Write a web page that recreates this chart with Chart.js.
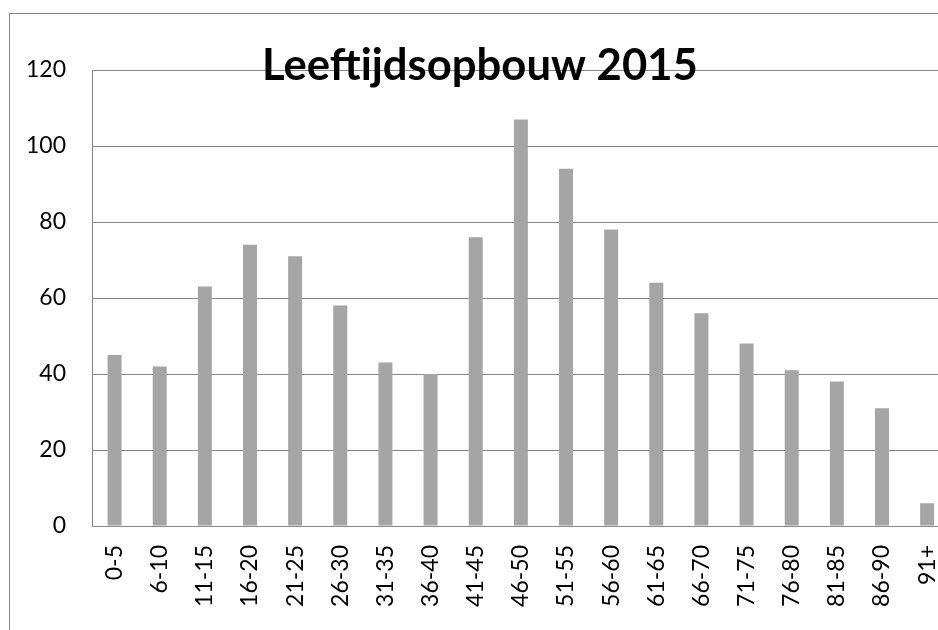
<!DOCTYPE html>
<html>
<head>
<meta charset="utf-8">
<script src="https://cdn.jsdelivr.net/npm/chart.js@4.4.1/dist/chart.umd.min.js"></script>
<style>
  html, body { margin: 0; padding: 0; background: #fff; overflow: hidden; }
  #wrap { position: relative; width: 938px; height: 630px; overflow: hidden; }
  #frame { position: absolute; left: 9px; top: 13px; width: 1000px; height: 700px; border: 1px solid #868686; }
  #c { position: absolute; left: 0; top: 0; }
</style>
</head>
<body>
<div id="wrap">
  <div id="frame"></div>
  <canvas id="c" width="974" height="630"></canvas>
</div>
<script>
// leeftijdsgroepen en aantallen
const categories = ['0-5', '6-10', '11-15', '16-20', '21-25', '26-30', '31-35', '36-40', '41-45', '46-50',
  '51-55', '56-60', '61-65', '66-70', '71-75', '76-80', '81-85', '86-90', '91+'];
const counts = [45, 42, 63, 74, 71, 58, 43, 40, 76, 107, 94, 78, 64, 56, 48, 41, 38, 31, 6];
const yTicks = [0, 20, 40, 60, 80, 100, 120];
const titleText = 'Leeftijdsopbouw 2015';

const GRID = '#868686';
const FONT = 'Lato, "Open Sans", sans-serif';

// titel over de bovenste rasterlijn, zoals in Excel
const titlePlugin = {
  id: 'overlayTitle',
  afterDraw(chart) {
    const ctx = chart.ctx;
    ctx.save();
    ctx.font = 'bold 100px ' + FONT;
    const w100 = ctx.measureText(titleText).width;
    const size = 100 * 436 / w100;
    ctx.font = 'bold ' + size + 'px ' + FONT;
    ctx.fillStyle = '#000';
    ctx.textAlign = 'left';
    ctx.textBaseline = 'alphabetic';
    ctx.fillText(titleText, 262, 80);
    ctx.restore();
  }
};

new Chart(document.getElementById('c'), {
  type: 'bar',
  data: {
    labels: categories,
    datasets: [{
      data: counts,
      backgroundColor: '#A5A5A5',
      borderWidth: 0,
      barPercentage: 0.31,
      categoryPercentage: 1
    }]
  },
  options: {
    responsive: false,
    animation: false,
    layout: {padding: {top: 70, right: 10, bottom: 0, left: 0}},
    plugins: {legend: {display: false}, tooltip: {enabled: false}, title: {display: false}},
    scales: {
      x: {
        grid: {display: false, drawTicks: false},
        border: {display: true, color: GRID, width: 1},
        ticks: {autoSkip: false, maxRotation: 90, minRotation: 90, padding: 19, color: '#000', font: {family: FONT, size: 23}},
        afterFit(scale) { scale.height = 104; }
      },
      y: {
        min: 0, max: 120,
        afterBuildTicks(scale) { scale.ticks = yTicks.map(v => ({value: v})); },
        grid: {color: GRID, drawTicks: false},
        border: {display: true, color: GRID, width: 1},
        ticks: {padding: 26, color: '#000', font: {family: FONT, size: 23}},
        afterFit(scale) { scale.width = 92; }
      }
    }
  },
  plugins: [titlePlugin]
});
</script>
</body>
</html>
